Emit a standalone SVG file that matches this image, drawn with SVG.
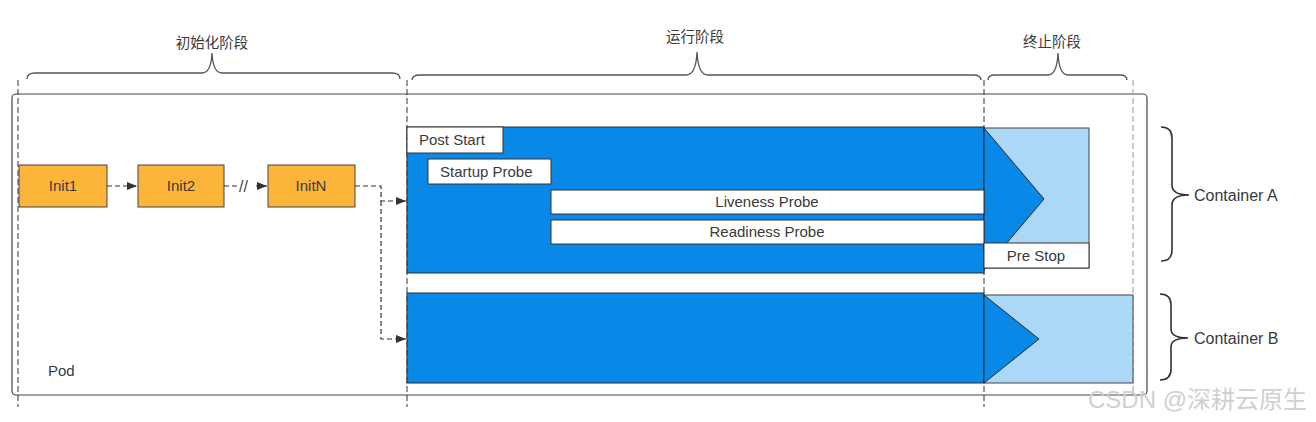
<svg xmlns="http://www.w3.org/2000/svg" width="1316" height="422" viewBox="0 0 1316 422">
<style>
text{font-family:"Liberation Sans","Noto Sans CJK SC",sans-serif;fill:#3a3a3a;font-size:15px}
.cn{font-size:14.5px}
.brace{fill:none;stroke:#555;stroke-width:1.3}
.vdash{stroke:#333;stroke-width:1;stroke-dasharray:6,3;fill:none}
.blue{fill:#0a88e8;stroke:#2b2b2b;stroke-width:1}
.light{fill:#acd7f7;stroke:#444;stroke-width:1}
.wbox{fill:#fff;stroke:#333;stroke-width:1}
.init{fill:#fcb53a;stroke:#444;stroke-width:1}
.conn{fill:none;stroke:#333;stroke-width:1.2;stroke-dasharray:5,3}
.mid{text-anchor:middle}
.clab{font-size:16px}
</style>
<defs>
<marker id="arr" markerWidth="10" markerHeight="8" refX="10" refY="4" orient="auto" markerUnits="userSpaceOnUse">
<path d="M0,0 L10,4 L0,8 z" fill="#333"/>
</marker>
</defs>

<g id="phases">
<path class="brace" d="M27,79 Q27,73 35,73 L202,73 Q211,73 212,53 Q213,73 222,73 L392,73 Q400,73 400,79"/>
<text class="cn mid" x="212" y="48">初始化阶段</text>
<path class="brace" d="M412,80 Q412,75 420,75 L686,75 Q696,75 697,52 Q698,75 708,75 L973,75 Q981,75 981,80"/>
<text class="cn mid" x="695" y="42">运行阶段</text>
<path class="brace" d="M988,80 Q988,75 995,75 L1048,75 Q1057,75 1058,53 Q1059,75 1068,75 L1120,75 Q1127,75 1127,80"/>
<text class="cn mid" x="1052" y="47">终止阶段</text>
</g>

<g id="pod">
<rect x="12" y="94" width="1135" height="301" rx="4" fill="none" stroke="#444" stroke-width="1.2"/>
<text x="48" y="376">Pod</text>
</g>

<g id="timeline">
<line class="vdash" x1="18" y1="80" x2="18" y2="407"/>
<line class="vdash" x1="407" y1="80" x2="407" y2="407"/>
<line class="vdash" x1="984" y1="80" x2="984" y2="407"/>
<line class="vdash" x1="1133" y1="80" x2="1133" y2="395" style="stroke:#999"/>
</g>

<g id="containerA">
<rect class="blue" x="407" y="127" width="577" height="146"/>
<rect class="light" x="984" y="128" width="105" height="140"/>
<polygon class="blue" points="984,128 1044,199 984,270"/>
</g>

<g id="postStart">
<rect class="wbox" x="407" y="127" width="96" height="26"/>
<text x="419" y="145">Post Start</text>
</g>
<g id="startupProbe">
<rect class="wbox" x="428" y="159" width="123" height="25"/>
<text x="440" y="177">Startup Probe</text>
</g>
<g id="livenessProbe">
<rect class="wbox" x="551" y="190" width="433" height="24"/>
<text class="mid" x="767" y="207">Liveness Probe</text>
</g>
<g id="readinessProbe">
<rect class="wbox" x="551" y="220" width="433" height="24"/>
<text class="mid" x="767" y="237">Readiness Probe</text>
</g>
<g id="preStop">
<rect class="wbox" x="984" y="243" width="105" height="25"/>
<text class="mid" x="1036" y="261">Pre Stop</text>
</g>

<g id="containerB">
<rect class="blue" x="407" y="293" width="577" height="90"/>
<rect class="light" x="984" y="295" width="149" height="88"/>
<polygon class="blue" points="984,295 1039,339 984,383"/>
</g>

<g id="init1">
<rect class="init" x="19" y="165" width="88" height="42"/>
<text class="mid" x="63" y="191">Init1</text>
</g>
<g id="init2">
<rect class="init" x="138" y="165" width="86" height="42"/>
<text class="mid" x="181" y="191">Init2</text>
</g>
<g id="initN">
<rect class="init" x="268" y="165" width="87" height="42"/>
<text class="mid" x="311" y="191">InitN</text>
</g>

<g id="connectors">
<line class="conn" x1="107" y1="186" x2="137" y2="186" marker-end="url(#arr)"/>
<line class="conn" x1="224" y1="186" x2="238" y2="186"/>
<text x="239" y="192" style="font-size:16px;fill:#444">//</text>
<line class="conn" x1="256" y1="186" x2="267" y2="186" marker-end="url(#arr)"/>
<path class="conn" d="M355,186 L381,186 L381,201 L406,201" marker-end="url(#arr)"/>
<path class="conn" d="M381,201 L381,339 L406,339" marker-end="url(#arr)"/>
</g>

<g id="labelA">
<path class="brace" style="stroke:#333;stroke-width:1.6" d="M1161,127 Q1172,127 1172,138 L1172,185 Q1172,195 1189,195 Q1172,195 1172,205 L1172,250 Q1172,261 1161,261"/>
<text class="clab" x="1194" y="201">Container A</text>
</g>
<g id="labelB">
<path class="brace" style="stroke:#333;stroke-width:1.6" d="M1160,294 Q1171,294 1171,305 L1171,329 Q1171,338 1188,338 Q1171,338 1171,347 L1171,369 Q1171,380 1160,380"/>
<text class="clab" x="1194" y="344">Container B</text>
</g>

<text x="1088" y="408" style="font-size:24px;fill:#d0d0d0">CSDN @深耕云原生</text>
</svg>
